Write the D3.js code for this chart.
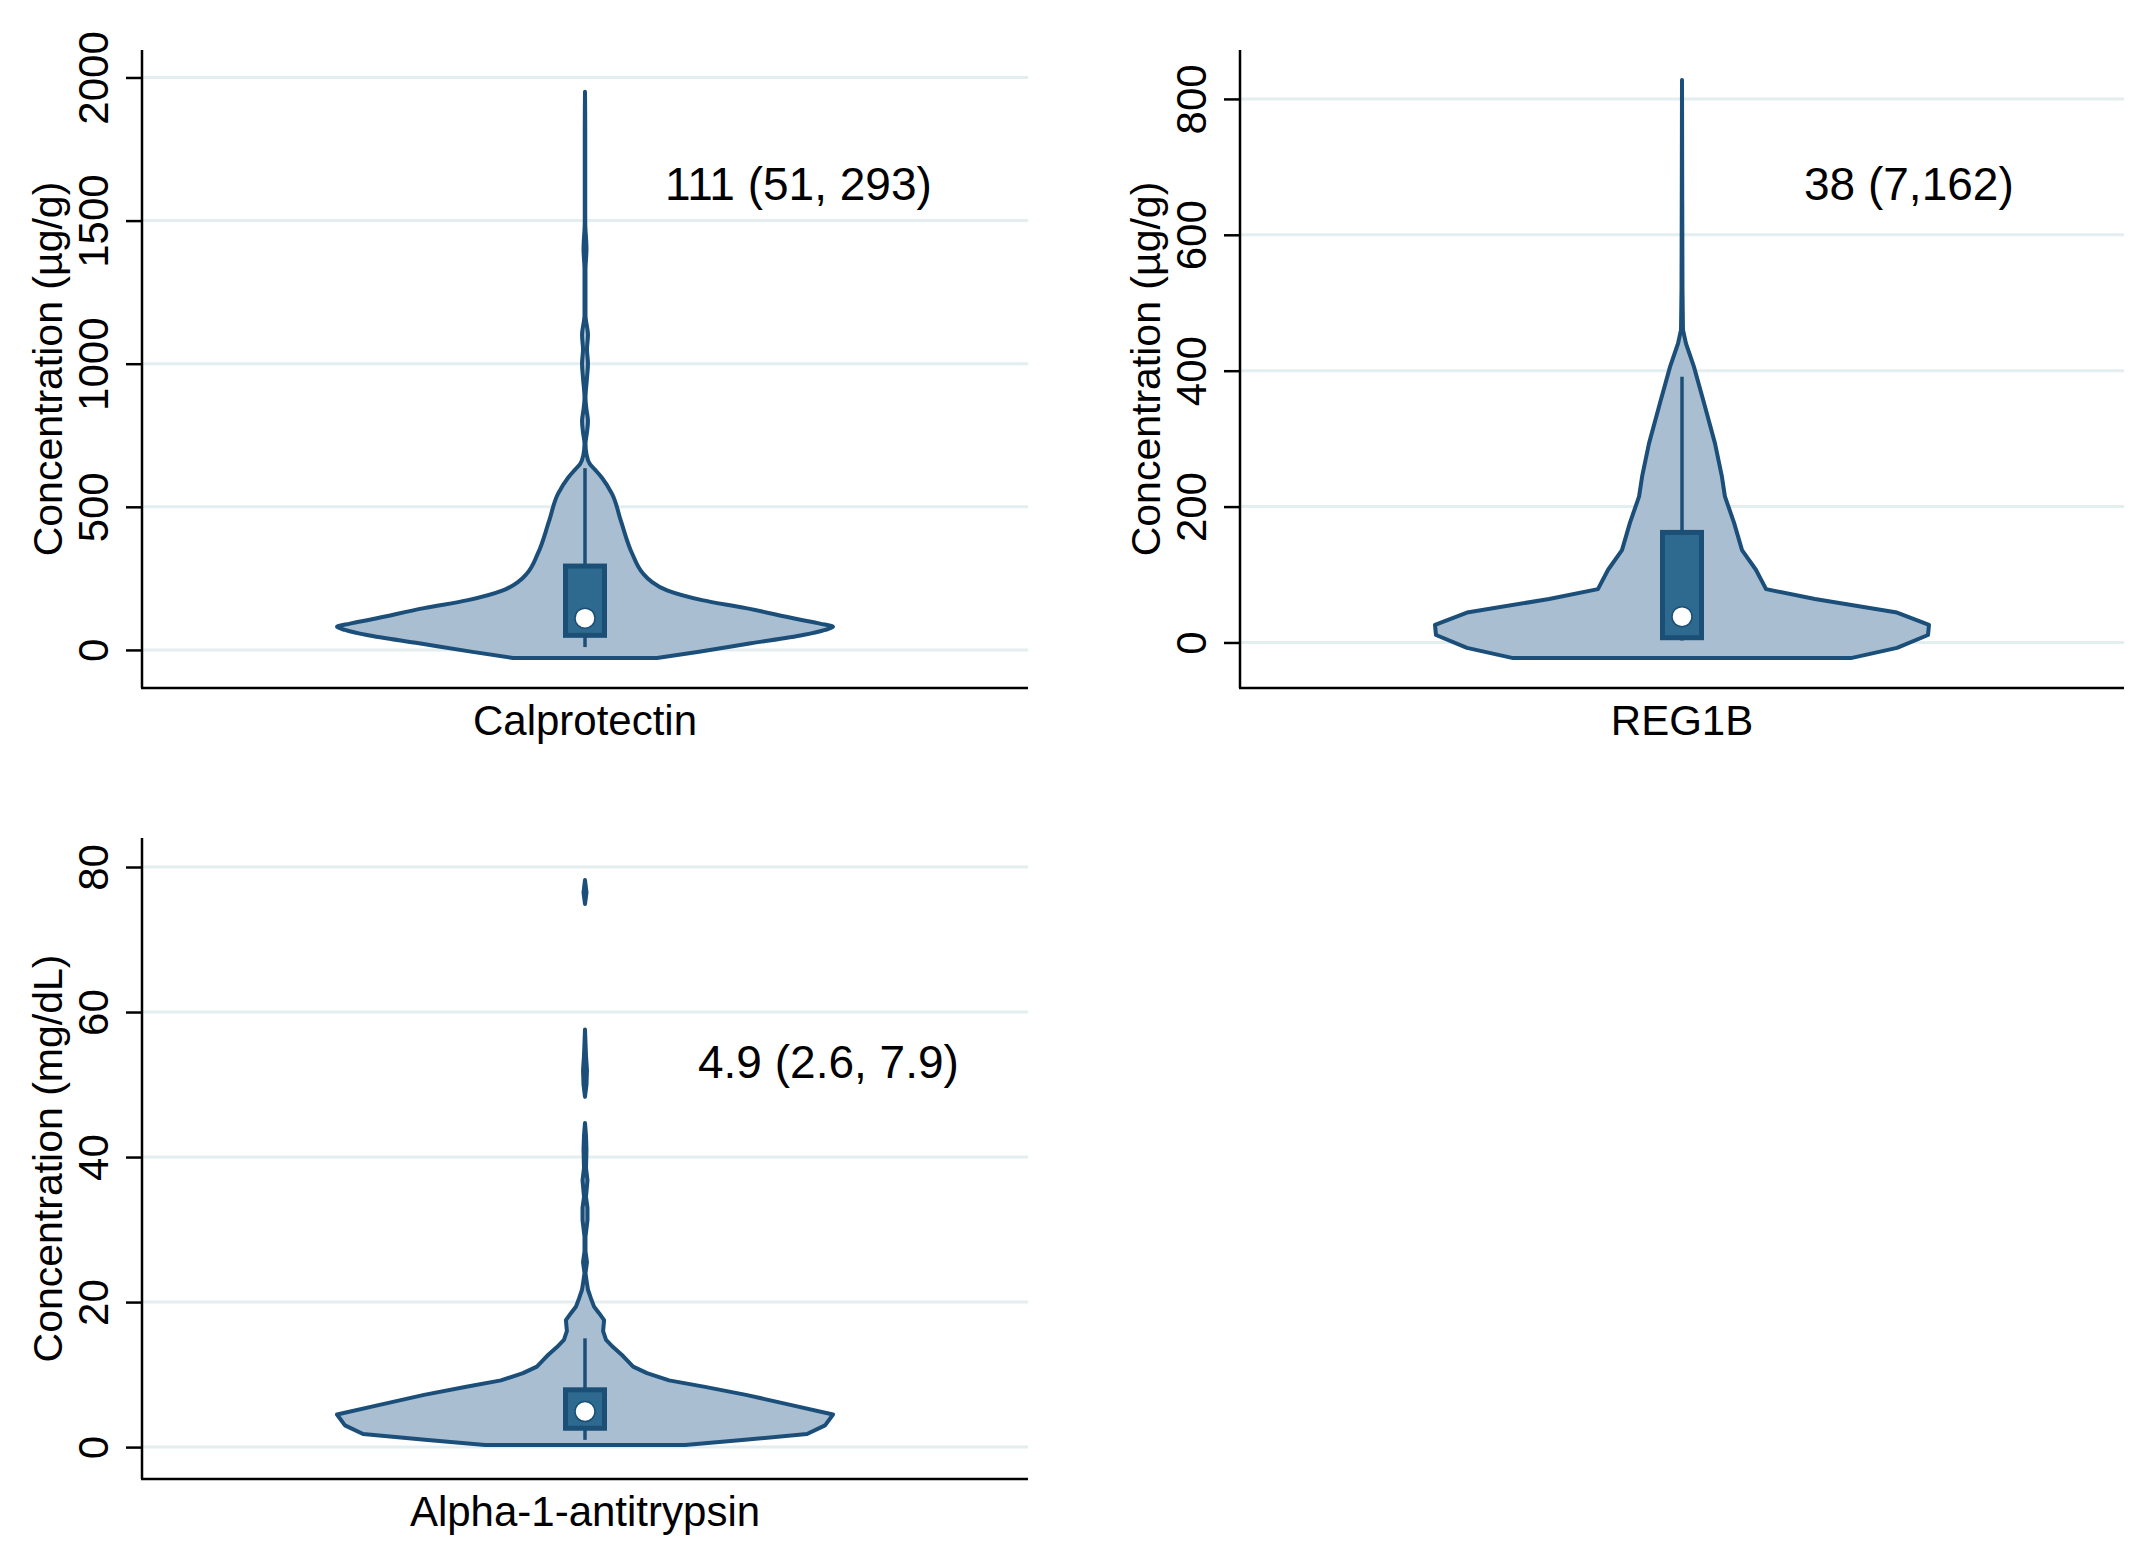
<!DOCTYPE html>
<html>
<head>
<meta charset="utf-8">
<script src="https://cdn.jsdelivr.net/npm/d3@7"></script>
<style>
  body { margin: 0; background: #fff; }
  text { font-family: "Liberation Sans", Arial, sans-serif; fill: #000; }
</style>
</head>
<body>
<div id="chart"></div>
<script>
// data
const categories = ["Calprotectin", "REG1B", "Alpha-1-antitrypsin"];
const yTitles = ["Concentration (\u00b5g/g)", "Concentration (\u00b5g/g)", "Concentration (mg/dL)"];
const annotations = ["111 (51, 293)", "38 (7,162)", "4.9 (2.6, 7.9)"];
const yTicks = [[0, 500, 1000, 1500, 2000], [0, 200, 400, 600, 800], [0, 20, 40, 60, 80]];
const yDomains = [[-133, 2096], [-67, 872], [-4.4, 84]];

// [lower adjacent, q1, median, q3, upper adjacent]
const boxStats = [[10, 51, 111, 293, 635], [3, 7, 38, 162, 391], [1, 2.6, 4.9, 7.9, 15]];

// [value, relative density] (1 = widest)
const calproDensity = [
  [-28, .290], [-6, .460], [23, .669], [52, .879], [70, .968], [81, 1.0], [92, .948],
  [107, .859], [146, .649], [174, .472], [208, .331], [240, .266], [267, .234],
  [337, .190], [450, .145], [545, .109], [601, .069], [630, .040], [649, .020],
  [684, .006], [720, .002], [760, .008], [800, .012], [840, .006], [880, .002],
  [950, .008], [1000, .012], [1050, .008], [1100, .012], [1170, .002], [1250, .002],
  [1330, .002], [1400, .006], [1495, .001], [1650, .001], [1820, .001], [1950, 0]
];
const reg1bDensity = [
  [-23, .681], [-8, .867], [11, .992], [26, .996], [44, .867], [64, .536], [78.5, .339],
  [107, .298], [136, .242], [176, .210], [215, .173], [244, .161], [293, .133],
  [352, .089], [406, .048], [440, .016], [460, .004], [520, .002], [650, .001], [828, 0]
];
const a1atDensity = [
  [0.3, .403], [1.0, .645], [1.8, .895], [3.0, .968], [4.5, 1.0], [6.0, .806], [7.2, .649],
  [8.3, .484], [9.2, .339], [10.2, .250], [11.1, .194], [12.0, .169], [12.7, .149],
  [13.8, .113], [14.8, .085], [16.0, .073], [17.5, .077], [18.5, .056], [19.4, .036],
  [20.5, .024], [21.7, .012], [23, .006], [24, .002], [25.5, .008], [27, .002], [29, .002],
  [31.3, .010], [33, .010], [34.5, .004], [36.8, .010], [38.5, .004], [41, .006], [43, .004],
  [44.7, 0], [48.3, 0], [50, .006], [52, .008], [54, .004], [57.6, 0], [74.9, 0],
  [76.5, .006], [78.2, 0]
];
const densities = [calproDensity, reg1bDensity, a1atDensity];

// layout
const W = 2149, H = 1557;
const panels = [
  {left: 142, right: 1028, top: 50, bottom: 688, smooth: true},
  {left: 1240, right: 2124, top: 50, bottom: 688, smooth: false},
  {left: 142, right: 1028, top: 838, bottom: 1479, smooth: false}
];
const annotPos = [[665, 200], [1804, 200], [698, 1078]];

const violinFill = "#a9bed0", violinLine = "#1b4f7a";
const boxFill = "#2e6a8f", boxLine = "#1c4f76";
const gridColor = "#e4eef0";

const svg = d3.select("#chart")
  .append("svg")
  .attr("width", W)
  .attr("height", H);

svg.append("rect").attr("width", W).attr("height", H).attr("fill", "#fff");

// split a density series wherever it drops to zero, so empty gaps stay empty
function splitRuns(pts) {
  const runs = [];
  let cur = [];
  pts.forEach(p => {
    cur.push(p);
    if (p[1] === 0 && cur.length > 1) {
      runs.push(cur);
      cur = [p];
    }
  });
  if (cur.length > 1) runs.push(cur);
  return runs.filter(r => d3.max(r, d => d[1]) > 0);
}

panels.forEach((p, i) => {
  const g = svg.append("g");

  const y = d3.scaleLinear().domain(yDomains[i]).range([p.bottom, p.top]);
  const x = d3.scalePoint().domain([categories[i]]).range([p.left, p.right]).padding(0.5);
  const w = d3.scaleLinear().domain([0, 1]).range([0, 248]);
  const cx = x(categories[i]);

  // gridlines
  g.selectAll(".grid")
    .data(yTicks[i])
    .join("line")
    .attr("x1", p.left).attr("x2", p.right)
    .attr("y1", d => y(d)).attr("y2", d => y(d))
    .attr("stroke", gridColor)
    .attr("stroke-width", 3);

  // y axis
  const yAxis = g.append("g")
    .attr("transform", `translate(${p.left},0)`)
    .call(d3.axisLeft(y).tickValues(yTicks[i]).tickSize(16).tickFormat(d3.format("d")));
  yAxis.select(".domain").remove();
  yAxis.selectAll("line").attr("stroke", "#000").attr("stroke-width", 2.5);
  yAxis.selectAll("text")
    .attr("x", null).attr("dy", null)
    .attr("transform", "translate(-34,0) rotate(-90)")
    .attr("text-anchor", "middle")
    .style("font-size", "42px")
    .style("font-family", "'Liberation Sans', Arial, sans-serif")
    .attr("fill", "#000");

  g.append("line")
    .attr("x1", p.left).attr("x2", p.left)
    .attr("y1", p.top).attr("y2", p.bottom)
    .attr("stroke", "#000").attr("stroke-width", 2.5);

  // x axis
  g.append("line")
    .attr("x1", p.left - 1).attr("x2", p.right)
    .attr("y1", p.bottom).attr("y2", p.bottom)
    .attr("stroke", "#000").attr("stroke-width", 2.5);

  g.append("text")
    .attr("x", cx)
    .attr("y", p.bottom + 47)
    .attr("text-anchor", "middle")
    .style("font-size", "42px")
    .text(categories[i]);

  // y title
  g.append("text")
    .attr("transform", `translate(${p.left - 80},${(p.top + p.bottom) / 2}) rotate(-90)`)
    .attr("text-anchor", "middle")
    .style("font-size", "41px")
    .text(yTitles[i]);

  // violin
  const area = d3.area()
    .y(d => y(d[0]))
    .x0(d => cx - w(d[1]))
    .x1(d => cx + w(d[1]))
    .curve(p.smooth ? d3.curveMonotoneY : d3.curveLinear);

  g.selectAll(".violin")
    .data(splitRuns(densities[i]))
    .join("path")
    .attr("d", area)
    .attr("fill", violinFill)
    .attr("stroke", violinLine)
    .attr("stroke-width", 4)
    .attr("stroke-linejoin", "round");

  // box plot inside
  const s = boxStats[i];
  g.append("line")
    .attr("x1", cx).attr("x2", cx)
    .attr("y1", y(s[0])).attr("y2", y(s[4]))
    .attr("stroke", boxLine).attr("stroke-width", 3.5);

  g.append("rect")
    .attr("x", cx - 19.5)
    .attr("width", 39)
    .attr("y", y(s[3]))
    .attr("height", y(s[1]) - y(s[3]))
    .attr("fill", boxFill)
    .attr("stroke", boxLine)
    .attr("stroke-width", 5);

  g.append("circle")
    .attr("cx", cx)
    .attr("cy", y(s[2]))
    .attr("r", 10)
    .attr("fill", "#fff")
    .attr("stroke", boxLine)
    .attr("stroke-width", 1.5);

  // median (IQR) label
  g.append("text")
    .attr("x", annotPos[i][0])
    .attr("y", annotPos[i][1])
    .style("font-size", "46px")
    .text(annotations[i]);
});
</script>
</body>
</html>
